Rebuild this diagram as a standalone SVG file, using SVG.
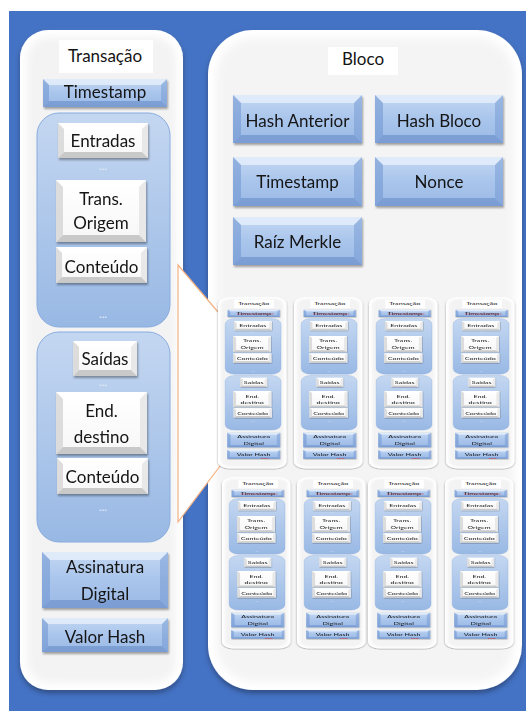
<svg xmlns="http://www.w3.org/2000/svg" xmlns:xlink="http://www.w3.org/1999/xlink" width="526" height="711" viewBox="0 0 526 711">
<defs>
<style>
.t{font-family:Lato,"Liberation Sans",sans-serif;font-size:17px;fill:#141414;text-anchor:middle}
.dots{font-family:Lato,"Liberation Sans",sans-serif;font-size:11px;fill:#e6eef9;text-anchor:middle}
.btn{fill:url(#btnGrad)}
.wbox{fill:url(#wGrad)}
.grp{fill:url(#grpGrad);stroke:#88acdf;stroke-width:1}
.bt{fill:#eaf2fc;opacity:.75}
.bl{fill:#6d93cf;opacity:.55}
.br{fill:#6d93cf;opacity:.45}
.bb{fill:#5f86c4;opacity:.55}
.wt{fill:#ffffff}
.wl{fill:#d4d4d4;opacity:.8}
.wr{fill:#e4e4e4;opacity:.8}
.wb{fill:#bdbdbd;opacity:.8}
.spell{stroke:#e03030;stroke-width:0.7;stroke-dasharray:1 0.6;fill:none}
</style>
<linearGradient id="btnGrad" x1="0" y1="0" x2="0" y2="1">
<stop offset="0" stop-color="#c3d7f2"/>
<stop offset="0.5" stop-color="#a9c5ec"/>
<stop offset="1" stop-color="#9bb9e5"/>
</linearGradient>
<linearGradient id="wGrad" x1="0" y1="0" x2="0" y2="1">
<stop offset="0" stop-color="#ffffff"/>
<stop offset="1" stop-color="#f7f7f7"/>
</linearGradient>
<linearGradient id="grpGrad" x1="0" y1="0" x2="0" y2="1">
<stop offset="0" stop-color="#c4d7f1"/>
<stop offset="1" stop-color="#98b8e4"/>
</linearGradient>
<filter id="sh" x="-10%" y="-10%" width="125%" height="150%">
<feDropShadow dx="1" dy="2" stdDeviation="1.2" flood-color="#000" flood-opacity="0.35"/>
</filter>
<filter id="soft" x="-5%" y="-5%" width="110%" height="110%">
<feGaussianBlur stdDeviation="4"/>
</filter>
<filter id="psh" x="-10%" y="-10%" width="120%" height="120%">
<feDropShadow dx="0" dy="3" stdDeviation="2.5" flood-color="#000" flood-opacity="0.35"/>
</filter>
</defs>

<rect x="9" y="11" width="517" height="700" fill="#4472c4"/>

<g id="transacao">
<g id="transacao-painel">
<rect x="20" y="30" width="163" height="660" rx="28" fill="#ffffff" filter="url(#psh)"/>
<rect x="27" y="37" width="149" height="646" rx="22" fill="#f3f3f3" filter="url(#soft)"/>
</g>
<g id="transacao-titulo">
<rect x="59" y="40" width="94" height="33" fill="#ffffff"/>
<text class="t" x="105" y="62">Transação</text>
</g>
<g id="tx-timestamp" filter="url(#sh)">
<rect class="btn" x="43" y="79" width="124" height="28"/>
<polygon class="bt" points="43,79 167,79 161,85 49,85"/>
<polygon class="bl" points="43,79 49,85 49,101 43,107"/>
<polygon class="br" points="167,79 167,107 161,101 161,85"/>
<polygon class="bb" points="43,107 49,101 161,101 167,107"/>
<text class="t" x="105" y="98">Timestamp</text>
</g>
<g id="grupo-entradas">
<rect class="grp" x="37" y="113" width="133" height="214" rx="22"/>
<g id="tx-entradas" filter="url(#sh)">
<rect class="wbox" x="58" y="123" width="90" height="35"/>
<polygon class="wt" points="58,123 148,123 142,129 64,129"/>
<polygon class="wl" points="58,123 64,129 64,152 58,158"/>
<polygon class="wr" points="148,123 148,158 142,152 142,129"/>
<polygon class="wb" points="58,158 64,152 142,152 148,158"/>
<text class="t" x="103" y="147">Entradas</text>
</g>
<text class="dots" x="103" y="170">...</text>
<g id="tx-trans-origem" filter="url(#sh)">
<rect class="wbox" x="56" y="180" width="90" height="62"/>
<polygon class="wt" points="56,180 146,180 139,187 63,187"/>
<polygon class="wl" points="56,180 63,187 63,235 56,242"/>
<polygon class="wr" points="146,180 146,242 139,235 139,187"/>
<polygon class="wb" points="56,242 63,235 139,235 146,242"/>
<text class="t" x="101" y="205">Trans.</text>
<text class="t" x="101" y="229">Origem</text>
</g>
<g id="tx-conteudo-entrada" filter="url(#sh)">
<rect class="wbox" x="56" y="247" width="91" height="36"/>
<polygon class="wt" points="56,247 147,247 141,253 62,253"/>
<polygon class="wl" points="56,247 62,253 62,277 56,283"/>
<polygon class="wr" points="147,247 147,283 141,277 141,253"/>
<polygon class="wb" points="56,283 62,277 141,277 147,283"/>
<text class="t" x="101.5" y="273">Conteúdo</text>
</g>
<text class="dots" x="103" y="318">...</text>
</g>
<g id="grupo-saidas">
<rect class="grp" x="37" y="332" width="133" height="210" rx="22"/>
<g id="tx-saidas" filter="url(#sh)">
<rect class="wbox" x="73" y="341" width="64" height="35"/>
<polygon class="wt" points="73,341 137,341 131,347 79,347"/>
<polygon class="wl" points="73,341 79,347 79,370 73,376"/>
<polygon class="wr" points="137,341 137,376 131,370 131,347"/>
<polygon class="wb" points="73,376 79,370 131,370 137,376"/>
<text class="t" x="105" y="365">Saídas</text>
</g>
<text class="dots" x="103" y="386">...</text>
<g id="tx-end-destino" filter="url(#sh)">
<rect class="wbox" x="56" y="392" width="91" height="62"/>
<polygon class="wt" points="56,392 147,392 140,399 63,399"/>
<polygon class="wl" points="56,392 63,399 63,447 56,454"/>
<polygon class="wr" points="147,392 147,454 140,447 140,399"/>
<polygon class="wb" points="56,454 63,447 140,447 147,454"/>
<text class="t" x="101.5" y="417">End.</text>
<text class="t" x="101.5" y="443">destino</text>
</g>
<g id="tx-conteudo-saida" filter="url(#sh)">
<rect class="wbox" x="57" y="458" width="91" height="36"/>
<polygon class="wt" points="57,458 148,458 142,464 63,464"/>
<polygon class="wl" points="57,458 63,464 63,488 57,494"/>
<polygon class="wr" points="148,458 148,494 142,488 142,464"/>
<polygon class="wb" points="57,494 63,488 142,488 148,494"/>
<text class="t" x="102.5" y="483">Conteúdo</text>
</g>
<text class="dots" x="103" y="511">...</text>
</g>
<g id="tx-assinatura" filter="url(#sh)">
<rect class="btn" x="42" y="552" width="126" height="56"/>
<polygon class="bt" points="42,552 168,552 160,560 50,560"/>
<polygon class="bl" points="42,552 50,560 50,600 42,608"/>
<polygon class="br" points="168,552 168,608 160,600 160,560"/>
<polygon class="bb" points="42,608 50,600 160,600 168,608"/>
<text class="t" x="105" y="573">Assinatura</text>
<text class="t" x="105" y="600">Digital</text>
</g>
<g id="tx-valor-hash" filter="url(#sh)">
<rect class="btn" x="42" y="618" width="126" height="34"/>
<polygon class="bt" points="42,618 168,618 162,624 48,624"/>
<polygon class="bl" points="42,618 48,624 48,646 42,652"/>
<polygon class="br" points="168,618 168,652 162,646 162,624"/>
<polygon class="bb" points="42,652 48,646 162,646 168,652"/>
<text class="t" x="105" y="643">Valor Hash</text>
</g>
</g>

<g id="bloco">
<g id="bloco-painel">
<rect x="208" y="30" width="314" height="660" rx="45" fill="#ffffff" filter="url(#psh)"/>
<rect x="216" y="38" width="298" height="644" rx="38" fill="#f4f4f4" filter="url(#soft)"/>
</g>
<g id="bloco-titulo">
<rect x="328" y="47" width="70" height="28" fill="#ffffff"/>
<text class="t" x="363" y="65">Bloco</text>
</g>
<g id="bl-hash-anterior" filter="url(#sh)">
<rect class="btn" x="233" y="95" width="129" height="48"/>
<polygon class="bt" points="233,95 362,95 354,103 241,103"/>
<polygon class="bl" points="233,95 241,103 241,135 233,143"/>
<polygon class="br" points="362,95 362,143 354,135 354,103"/>
<polygon class="bb" points="233,143 241,135 354,135 362,143"/>
<text class="t" x="297.5" y="127">Hash Anterior</text>
</g>
<g id="bl-hash-bloco" filter="url(#sh)">
<rect class="btn" x="375" y="95" width="128" height="48"/>
<polygon class="bt" points="375,95 503,95 495,103 383,103"/>
<polygon class="bl" points="375,95 383,103 383,135 375,143"/>
<polygon class="br" points="503,95 503,143 495,135 495,103"/>
<polygon class="bb" points="375,143 383,135 495,135 503,143"/>
<text class="t" x="439" y="127">Hash Bloco</text>
</g>
<g id="bl-timestamp" filter="url(#sh)">
<rect class="btn" x="233" y="157" width="129" height="49"/>
<polygon class="bt" points="233,157 362,157 354,165 241,165"/>
<polygon class="bl" points="233,157 241,165 241,198 233,206"/>
<polygon class="br" points="362,157 362,206 354,198 354,165"/>
<polygon class="bb" points="233,206 241,198 354,198 362,206"/>
<text class="t" x="297.5" y="188">Timestamp</text>
</g>
<g id="bl-nonce" filter="url(#sh)">
<rect class="btn" x="375" y="157" width="128" height="49"/>
<polygon class="bt" points="375,157 503,157 495,165 383,165"/>
<polygon class="bl" points="375,157 383,165 383,198 375,206"/>
<polygon class="br" points="503,157 503,206 495,198 495,165"/>
<polygon class="bb" points="375,206 383,198 495,198 503,206"/>
<text class="t" x="439" y="188">Nonce</text>
</g>
<g id="bl-raiz-merkle" filter="url(#sh)">
<rect class="btn" x="233" y="217" width="129" height="48"/>
<polygon class="bt" points="233,217 362,217 354,225 241,225"/>
<polygon class="bl" points="233,217 241,225 241,257 233,265"/>
<polygon class="br" points="362,217 362,265 354,257 354,225"/>
<polygon class="bb" points="233,265 241,257 354,257 362,265"/>
<text class="t" x="297.5" y="248">Raíz Merkle</text>
</g>
</g>

<g id="connectors">
<polygon points="178,265 218,312 223,462 178,522" fill="#ffffff"/>
<polyline points="218,312 178,265 178,522 223,462" fill="none" stroke="#f4b183" stroke-width="1.2"/>
</g>

<g id="bloco-transacoes">
<g id="mini-1">
<use xlink:href="#transacao" href="#transacao" transform="translate(218,297) scale(0.42,0.26) translate(-20,-30)"/>
<path class="spell" d="M237,314 h37 M261,458.5 h8"/>
</g>
<g id="mini-2">
<use xlink:href="#transacao" href="#transacao" transform="translate(294,297) scale(0.42,0.26) translate(-20,-30)"/>
<path class="spell" d="M313,314 h37 M337,458.5 h8"/>
</g>
<g id="mini-3">
<use xlink:href="#transacao" href="#transacao" transform="translate(369,297) scale(0.42,0.26) translate(-20,-30)"/>
<path class="spell" d="M388,314 h37 M412,458.5 h8"/>
</g>
<g id="mini-4">
<use xlink:href="#transacao" href="#transacao" transform="translate(446,297) scale(0.42,0.26) translate(-20,-30)"/>
<path class="spell" d="M465,314 h37 M489,458.5 h8"/>
</g>
<g id="mini-5">
<use xlink:href="#transacao" href="#transacao" transform="translate(222,477) scale(0.42,0.26) translate(-20,-30)"/>
<path class="spell" d="M241,494 h37 M265,638.5 h8"/>
</g>
<g id="mini-6">
<use xlink:href="#transacao" href="#transacao" transform="translate(297,477) scale(0.42,0.26) translate(-20,-30)"/>
<path class="spell" d="M316,494 h37 M340,638.5 h8"/>
</g>
<g id="mini-7">
<use xlink:href="#transacao" href="#transacao" transform="translate(368,477) scale(0.42,0.26) translate(-20,-30)"/>
<path class="spell" d="M387,494 h37 M411,638.5 h8"/>
</g>
<g id="mini-8">
<use xlink:href="#transacao" href="#transacao" transform="translate(445,477) scale(0.42,0.26) translate(-20,-30)"/>
<path class="spell" d="M464,494 h37 M488,638.5 h8"/>
</g>
</g>
</svg>
